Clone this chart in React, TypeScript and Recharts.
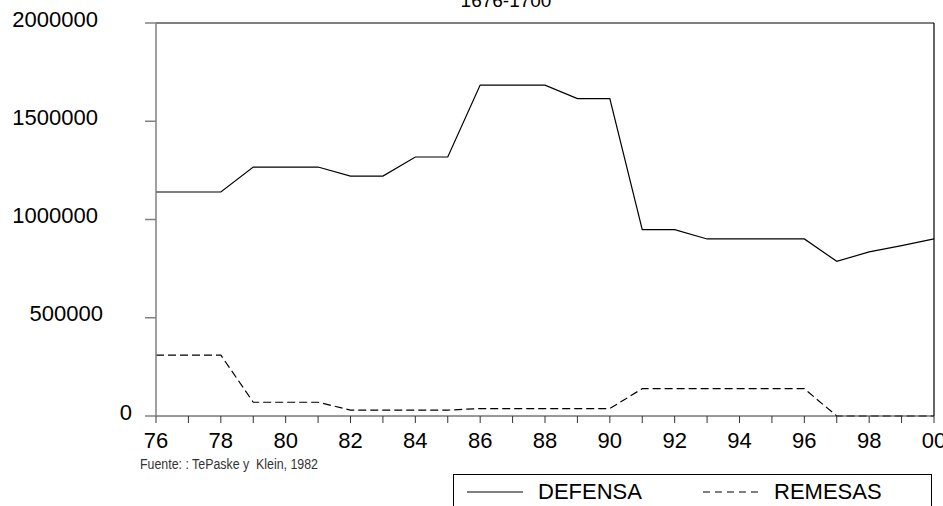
import { LineChart, Line, XAxis, YAxis, ReferenceLine } from "recharts";

const years = [
  1676, 1677, 1678, 1679, 1680, 1681, 1682, 1683, 1684, 1685, 1686, 1687, 1688,
  1689, 1690, 1691, 1692, 1693, 1694, 1695, 1696, 1697, 1698, 1699, 1700,
];

const defensa = [
  1140000, 1140000, 1140000, 1267000, 1267000, 1267000, 1221000, 1221000, 1318000,
  1318000, 1684000, 1684000, 1684000, 1615000, 1615000, 948000, 948000, 901000,
  901000, 901000, 901000, 787000, 835000, 867000, 901000,
];

const remesas = [
  310000, 310000, 310000, 70000, 70000, 70000, 30000, 30000, 30000, 30000, 38000,
  38000, 38000, 38000, 38000, 139000, 139000, 139000, 139000, 139000, 139000, 0,
  0, 0, 0,
];

const yTicks = [0, 500000, 1000000, 1500000, 2000000];

const series = [
  { key: "defensa", name: "DEFENSA", dash: undefined as string | undefined },
  { key: "remesas", name: "REMESAS", dash: "8 4" },
];

const data = years.map((year, i) => ({ year, defensa: defensa[i], remesas: remesas[i] }));

const FONT = "'Liberation Sans', Arial, sans-serif";

// EViews puts the y labels a bit unevenly; right edge of each label
const Y_LABEL_RIGHT: Record<number, number> = {
  0: 132,
  500000: 103,
  1000000: 98,
  1500000: 98,
  2000000: 98,
};

const YTick = ({ y, payload }: any) => (
  <text
    x={Y_LABEL_RIGHT[payload.value] ?? 98}
    y={y - 4}
    textAnchor="end"
    dominantBaseline="central"
    fontSize={22}
    fontFamily={FONT}
    fill="#000"
  >
    {payload.value}
  </text>
);

const XTick = ({ x, payload }: any) => {
  const v = payload.value as number;
  if (v % 2 !== 0) return null;
  return (
    <text
      x={x}
      y={440}
      textAnchor="middle"
      dominantBaseline="central"
      fontSize={22}
      fontFamily={FONT}
      fill="#000"
    >
      {String(v % 100).padStart(2, "0")}
    </text>
  );
};

export default function App() {
  return (
    <div style={{ position: "absolute", left: 0, top: 0, width: 943, height: 506, background: "#fff", overflow: "hidden" }}>
      <LineChart width={943} height={506} data={data} margin={{ top: 23, right: 9, left: 0, bottom: 0 }}>
        <XAxis
          dataKey="year"
          type="number"
          domain={[1676, 1700]}
          ticks={years}
          interval={0}
          tick={<XTick />}
          tickSize={7}
          height={90}
          stroke="#333"
          tickLine={{ stroke: "#333" }}
        />
        <YAxis
          domain={[0, 2000000]}
          ticks={yTicks}
          interval={0}
          width={156}
          tickSize={11}
          tick={<YTick />}
          stroke="#808080"
          strokeWidth={1.5}
        />
        <ReferenceLine y={2000000} stroke="#000" strokeWidth={1.2} />
        <ReferenceLine x={1700} stroke="#000" strokeWidth={1.2} />
        {series.map((s) => (
          <Line
            key={s.key}
            dataKey={s.key}
            type="linear"
            stroke="#000"
            strokeWidth={1.2}
            strokeDasharray={s.dash}
            dot={false}
            isAnimationActive={false}
          />
        ))}
        <text x={506} y={7} textAnchor="middle" fontSize={19} fontFamily={FONT} fill="#000">
          1676-1700
        </text>
        <text
          x={140}
          y={469}
          fontSize={14}
          fontFamily={FONT}
          fill="#333"
          textLength={178}
          lengthAdjust="spacingAndGlyphs"
          style={{ whiteSpace: "pre" }}
        >
          Fuente: : TePaske y  Klein, 1982
        </text>
      </LineChart>
      <div
        style={{
          position: "absolute",
          left: 453,
          top: 474,
          width: 479,
          height: 40,
          border: "1px solid #000",
          boxSizing: "border-box",
          fontFamily: FONT,
          fontSize: 22,
        }}
      >
        {series.map((s, i) => (
          <div
            key={s.key}
            style={{ position: "absolute", left: i === 0 ? 13 : 249, top: 4, display: "flex", alignItems: "center", height: 26 }}
          >
            <svg width={56} height={4} style={{ marginRight: 15 }}>
              <line x1={0} y1={2} x2={56} y2={2} stroke="#000" strokeWidth={1.2} strokeDasharray={s.dash ? "7 5" : undefined} />
            </svg>
            <span>{s.name}</span>
          </div>
        ))}
      </div>
    </div>
  );
}
